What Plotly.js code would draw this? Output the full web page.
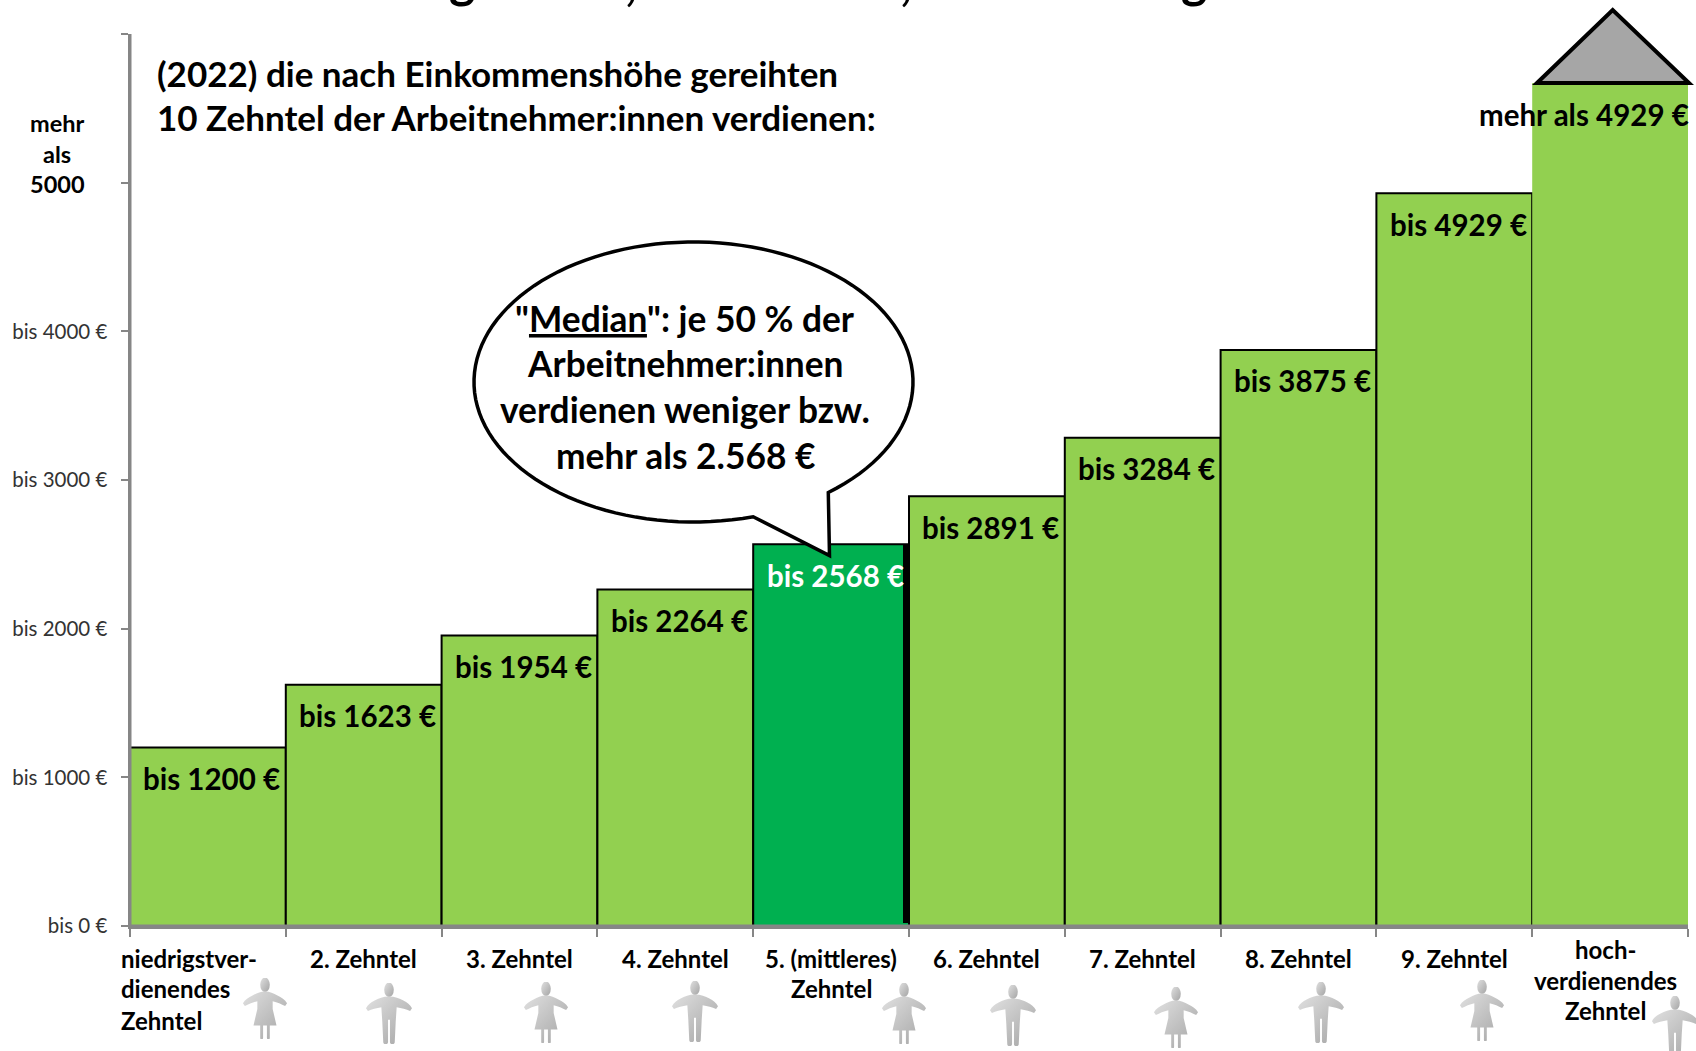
<!DOCTYPE html>
<html><head><meta charset="utf-8">
<script src="https://cdn.plot.ly/plotly-3.0.1.min.js"></script>
<style>html,body{margin:0;padding:0;background:#fff;overflow:hidden}</style>
</head><body><div id="chart" style="width:1696px;height:1051px"></div>
<script>
const categories = ["niedrigstverdienendes Zehntel","2. Zehntel","3. Zehntel","4. Zehntel","5. (mittleres) Zehntel","6. Zehntel","7. Zehntel","8. Zehntel","9. Zehntel","hochverdienendes Zehntel"];
const values = [1200,1623,1954,2264,2568,2891,3284,3875,4929,5670];
const valueLabels = ["bis 1200 €","bis 1623 €","bis 1954 €","bis 2264 €","bis 2568 €","bis 2891 €","bis 3284 €","bis 3875 €","bis 4929 €","mehr als 4929 €"];
const categoryLines = [["niedrigstver-","dienendes","Zehntel"],["2. Zehntel"],["3. Zehntel"],["4. Zehntel"],["5. (mittleres)","Zehntel"],["6. Zehntel"],["7. Zehntel"],["8. Zehntel"],["9. Zehntel"],["hoch-","verdienendes","Zehntel"]];
const yTickVals = [0,1000,2000,3000,4000,5000,6000];
const yTickText = ["bis 0 €","bis 1000 €","bis 2000 €","bis 3000 €","bis 4000 €","",""];
const bubbleLines = ['"<u>Median</u>": je 50 % der',"Arbeitnehmer:innen","verdienen weniger bzw.","mehr als 2.568 €"];
const introLines = ["(2022) die nach Einkommenshöhe gereihten","10 Zehntel der Arbeitnehmer:innen verdienen:"];
const axisNote = ["mehr","als","5000"];
const figures = ["f","m","f","m","f","m","f","m","f","m"];

const L=130,R=1688,T=34,B=926;
const px=x=>(x-L)/(R-L), py=y=>(B-y)/(B-T);
const FONT="Lato";
const GREEN="#92D050", MEDIAN="#00B050", AXIS="#868686";
const ann=[];
function text(t,x,y,size,opt){ann.push(Object.assign({text:t,x:px(x),y:py(y),xref:"paper",yref:"paper",showarrow:false,xanchor:"center",yanchor:"middle",font:{family:FONT,size:size,color:"#000",weight:700}},opt||{}));}

values.forEach((v,i)=>{
  const last=i===values.length-1;
  ann.push({text:valueLabels[i],x:categories[i],y:v,xref:"x",yref:"y",showarrow:false,xanchor:"center",yanchor:"middle",
    xshift:last?-26:4,yshift:-31,font:{family:FONT,size:29.5,weight:700,color:i===4?"#fff":"#000"}});
});
const lineGap=31;
categoryLines.forEach((lines,i)=>{
  const top=i===9?949:958;
  lines.forEach((t,k)=>{
    ann.push({text:t,x:categories[i],y:py(top+k*lineGap),xref:"x",yref:"paper",showarrow:false,
      xanchor:i===0?"left":"center",xshift:i===0?-89:(i===9?-5:0),yanchor:"middle",font:{family:FONT,size:24,weight:700,color:"#000"}});
  });
});
introLines.forEach((t,k)=>text(t,155,72.5+k*44.5,35,{xanchor:"left"}));
bubbleLines.forEach((t,k)=>text(t,685,318.5+k*45.5,35.3));
axisNote.forEach((t,k)=>text(t,57,123+k*30.5,23.5));
[["g",462],[",",631],[",",906],["g",1194]].forEach(d=>text(d[0],d[1],d[0]==="g"?-21:-19,50));

const cx=693.5,cy=382,rx=219.5,ry=140;
const a0=Math.atan2((492-cy)/ry,(827.7-cx)/rx), a1=Math.atan2((515.7-cy)/ry,(752.7-cx)/rx);
let d="";
for(let k=0;k<=120;k++){
  const a=a0-(k/120)*(2*Math.PI-(a1-a0));
  d+=(k?"L":"M")+px(cx+rx*Math.cos(a)).toFixed(5)+","+py(cy+ry*Math.sin(a)).toFixed(5);
}
d+="L"+px(829.5).toFixed(5)+","+py(555.5).toFixed(5)+"Z";

const shapes=[
  {type:"rect",xref:"paper",yref:"y",x0:px(903),x1:px(909),y0:20,y1:values[4],fillcolor:"#000",line:{width:0},layer:"above"},
  {type:"path",xref:"paper",yref:"paper",path:d,fillcolor:"#fff",line:{color:"#000",width:3.5},layer:"above"},
  {type:"path",xref:"paper",yref:"paper",path:`M${px(1537)},${py(83)}L${px(1612.7)},${py(10)}L${px(1689)},${py(83)}Z`,fillcolor:"#A6A6A6",line:{color:"#000",width:4},layer:"above"},
  {type:"line",xref:"paper",yref:"paper",x0:0,x1:1,y0:0,y1:0,line:{color:AXIS,width:3},layer:"above"},
  {type:"line",xref:"paper",yref:"paper",x0:0,x1:0,y0:0,y1:1,line:{color:AXIS,width:3},layer:"above"}
];

function icon(kind){
  const body=kind==="f"
    ?'<path d="M24 14C19 14 15 16 11 18C7 20 3 22 1 26L3 29C7 27 11 25 16 24L16 32L12 49L19 49L19 62C19 64 22 64 22 62L22 49L26 49L26 62C26 64 29 64 29 62L29 49L36 49L32 32L32 24C37 25 41 27 45 29L47 26C45 22 41 20 37 18C33 16 29 14 24 14Z"/>'
    :'<path d="M24 14C18 14 13 16 9 18C5 20 2 22 0 26L2 29C6 27 11 26 16 25L17 40L18 61C18 64 23 64 23 61L23 38L25 38L25 61C25 64 30 64 30 61L31 40L32 25C37 26 42 27 46 29L48 26C46 22 43 20 39 18C35 16 30 14 24 14Z"/>';
  const svg=`<svg xmlns="http://www.w3.org/2000/svg" viewBox="0 0 48 63"><defs><linearGradient id="g" x1="0" y1="0" x2="1" y2="1"><stop offset="0" stop-color="#e0e0e0"/><stop offset="1" stop-color="#a4a4a4"/></linearGradient></defs><g fill="url(#g)"><ellipse cx="24" cy="7" rx="5" ry="7.500"/>${body}</g></svg>`;
  return "data:image/svg+xml;charset=utf-8,"+encodeURIComponent(svg);
}
const iconSpots=[[265,978],[389,983],[546,982],[695,981],[904,983],[1013,985],[1176,987],[1321,982],[1482,980],[1675,996]];
const images=figures.map((f,i)=>({source:icon(f),xref:"paper",yref:"paper",x:px(iconSpots[i][0]),y:py(iconSpots[i][1]),
  sizex:46/(R-L),sizey:61/(B-T),xanchor:"center",yanchor:"top",sizing:"stretch",layer:"above"}));

const n=values.length;
Plotly.newPlot("chart",[{
  type:"bar",x:categories,y:values,width:1,
  marker:{color:values.map((v,i)=>i===4?MEDIAN:GREEN),line:{color:"#000",width:values.map((v,i)=>i===n-1?0:2)}},
  hoverinfo:"skip",showlegend:false
}],{
  width:1696,height:1051,margin:{l:L,r:1696-R,t:T,b:1051-B,pad:0},
  paper_bgcolor:"#fff",plot_bgcolor:"#fff",bargap:0,showlegend:false,
  xaxis:{type:"category",categoryorder:"array",categoryarray:categories,range:[-0.5,9.5],tickson:"boundaries",
    showticklabels:false,ticks:"outside",ticklen:8,tickwidth:2,tickcolor:AXIS,showline:true,linecolor:AXIS,linewidth:2.5,showgrid:false,zeroline:false},
  yaxis:{range:[0,6000],tickmode:"array",tickvals:yTickVals,ticktext:yTickText,ticks:"outside",ticklen:7,tickwidth:2,tickcolor:AXIS,
    showline:true,linecolor:AXIS,linewidth:2.5,showgrid:false,zeroline:false,ticklabelstandoff:9,
    tickfont:{family:FONT,size:20.5,color:"#333"}},
  annotations:ann,shapes:shapes,images:images
},{displayModeBar:false,staticPlot:true});
</script></body></html>
